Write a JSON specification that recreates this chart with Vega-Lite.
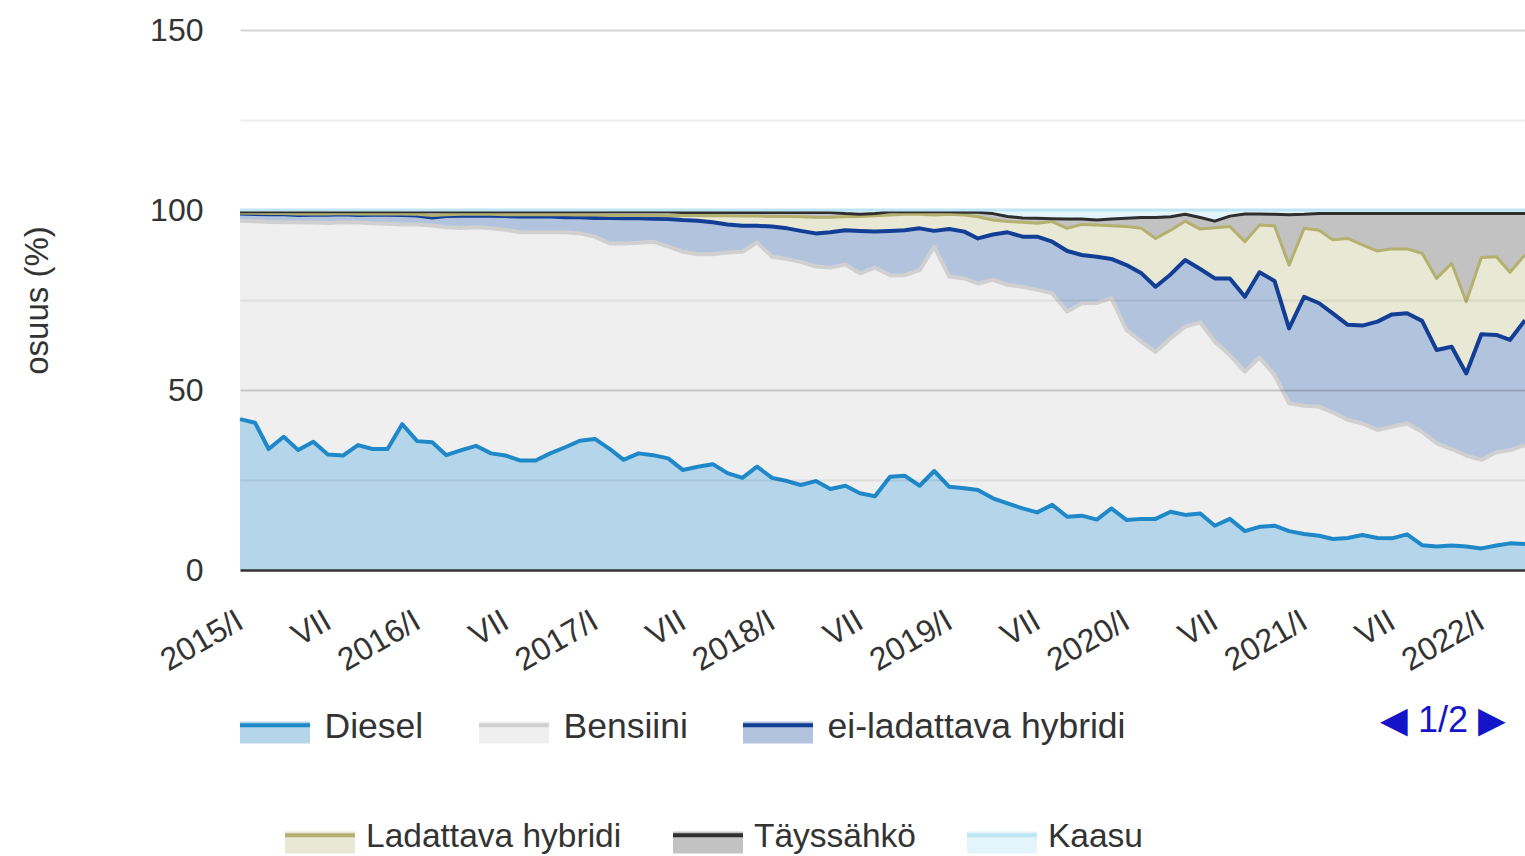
{
 "$schema": "https://vega.github.io/schema/vega-lite/v6.json",
 "width": 1285,
 "height": 540,
 "autosize": {"type": "none"},
 "padding": {"left": 240, "top": 30, "right": 0, "bottom": 286},
 "background": "white",
 "config": {"view": {"stroke": null}, "font": "Liberation Sans"},
 "data": {"values": [
  {"m":"2015-01","Diesel":41.9,"Bensiini":55.1,"ei-ladattava hybridi":2.0,"Ladattava hybridi":0.2,"Täyssähkö":0.3,"Kaasu":0.5},
  {"m":"2015-02","Diesel":40.9,"Bensiini":56.0,"ei-ladattava hybridi":2.0,"Ladattava hybridi":0.2,"Täyssähkö":0.4,"Kaasu":0.5},
  {"m":"2015-03","Diesel":33.6,"Bensiini":63.1,"ei-ladattava hybridi":2.1,"Ladattava hybridi":0.2,"Täyssähkö":0.5,"Kaasu":0.5},
  {"m":"2015-04","Diesel":37.0,"Bensiini":59.6,"ei-ladattava hybridi":2.2,"Ladattava hybridi":0.2,"Täyssähkö":0.5,"Kaasu":0.5},
  {"m":"2015-05","Diesel":33.3,"Bensiini":63.3,"ei-ladattava hybridi":2.0,"Ladattava hybridi":0.3,"Täyssähkö":0.6,"Kaasu":0.5},
  {"m":"2015-06","Diesel":35.6,"Bensiini":60.9,"ei-ladattava hybridi":2.2,"Ladattava hybridi":0.2,"Täyssähkö":0.6,"Kaasu":0.5},
  {"m":"2015-07","Diesel":32.1,"Bensiini":64.3,"ei-ladattava hybridi":2.3,"Ladattava hybridi":0.2,"Täyssähkö":0.6,"Kaasu":0.5},
  {"m":"2015-08","Diesel":31.8,"Bensiini":64.8,"ei-ladattava hybridi":2.2,"Ladattava hybridi":0.2,"Täyssähkö":0.5,"Kaasu":0.5},
  {"m":"2015-09","Diesel":34.7,"Bensiini":61.8,"ei-ladattava hybridi":2.1,"Ladattava hybridi":0.3,"Täyssähkö":0.6,"Kaasu":0.5},
  {"m":"2015-10","Diesel":33.6,"Bensiini":62.7,"ei-ladattava hybridi":2.4,"Ladattava hybridi":0.2,"Täyssähkö":0.6,"Kaasu":0.5},
  {"m":"2015-11","Diesel":33.6,"Bensiini":62.6,"ei-ladattava hybridi":2.5,"Ladattava hybridi":0.2,"Täyssähkö":0.6,"Kaasu":0.5},
  {"m":"2015-12","Diesel":40.5,"Bensiini":55.5,"ei-ladattava hybridi":2.6,"Ladattava hybridi":0.3,"Täyssähkö":0.6,"Kaasu":0.5},
  {"m":"2016-01","Diesel":35.8,"Bensiini":60.2,"ei-ladattava hybridi":2.5,"Ladattava hybridi":0.3,"Täyssähkö":0.7,"Kaasu":0.5},
  {"m":"2016-02","Diesel":35.5,"Bensiini":60.2,"ei-ladattava hybridi":2.2,"Ladattava hybridi":0.6,"Täyssähkö":1.0,"Kaasu":0.5},
  {"m":"2016-03","Diesel":31.9,"Bensiini":63.3,"ei-ladattava hybridi":3.1,"Ladattava hybridi":0.4,"Täyssähkö":0.8,"Kaasu":0.5},
  {"m":"2016-04","Diesel":33.3,"Bensiini":61.7,"ei-ladattava hybridi":3.4,"Ladattava hybridi":0.4,"Täyssähkö":0.7,"Kaasu":0.5},
  {"m":"2016-05","Diesel":34.5,"Bensiini":60.7,"ei-ladattava hybridi":3.3,"Ladattava hybridi":0.3,"Täyssähkö":0.7,"Kaasu":0.5},
  {"m":"2016-06","Diesel":32.4,"Bensiini":62.5,"ei-ladattava hybridi":3.5,"Ladattava hybridi":0.4,"Täyssähkö":0.7,"Kaasu":0.5},
  {"m":"2016-07","Diesel":31.8,"Bensiini":62.7,"ei-ladattava hybridi":3.8,"Ladattava hybridi":0.4,"Täyssähkö":0.8,"Kaasu":0.5},
  {"m":"2016-08","Diesel":30.4,"Bensiini":63.4,"ei-ladattava hybridi":4.4,"Ladattava hybridi":0.5,"Täyssähkö":0.8,"Kaasu":0.5},
  {"m":"2016-09","Diesel":30.4,"Bensiini":63.4,"ei-ladattava hybridi":4.4,"Ladattava hybridi":0.5,"Täyssähkö":0.8,"Kaasu":0.5},
  {"m":"2016-10","Diesel":32.4,"Bensiini":61.4,"ei-ladattava hybridi":4.4,"Ladattava hybridi":0.5,"Täyssähkö":0.8,"Kaasu":0.5},
  {"m":"2016-11","Diesel":34.1,"Bensiini":59.7,"ei-ladattava hybridi":4.2,"Ladattava hybridi":0.7,"Täyssähkö":0.8,"Kaasu":0.5},
  {"m":"2016-12","Diesel":35.9,"Bensiini":57.6,"ei-ladattava hybridi":4.5,"Ladattava hybridi":0.6,"Täyssähkö":0.9,"Kaasu":0.5},
  {"m":"2017-01","Diesel":36.4,"Bensiini":56.2,"ei-ladattava hybridi":5.2,"Ladattava hybridi":0.8,"Täyssähkö":0.9,"Kaasu":0.5},
  {"m":"2017-02","Diesel":33.6,"Bensiini":57.1,"ei-ladattava hybridi":7.1,"Ladattava hybridi":0.7,"Täyssähkö":1.0,"Kaasu":0.5},
  {"m":"2017-03","Diesel":30.6,"Bensiini":60.1,"ei-ladattava hybridi":7.0,"Ladattava hybridi":0.8,"Täyssähkö":1.0,"Kaasu":0.5},
  {"m":"2017-04","Diesel":32.4,"Bensiini":58.5,"ei-ladattava hybridi":6.8,"Ladattava hybridi":0.8,"Täyssähkö":1.0,"Kaasu":0.5},
  {"m":"2017-05","Diesel":31.9,"Bensiini":59.3,"ei-ladattava hybridi":6.4,"Ladattava hybridi":0.9,"Täyssähkö":1.0,"Kaasu":0.5},
  {"m":"2017-06","Diesel":31.0,"Bensiini":58.8,"ei-ladattava hybridi":7.7,"Ladattava hybridi":0.9,"Täyssähkö":1.1,"Kaasu":0.5},
  {"m":"2017-07","Diesel":27.8,"Bensiini":60.6,"ei-ladattava hybridi":8.8,"Ladattava hybridi":1.3,"Täyssähkö":0.8,"Kaasu":0.7},
  {"m":"2017-08","Diesel":28.7,"Bensiini":59.0,"ei-ladattava hybridi":9.3,"Ladattava hybridi":1.5,"Täyssähkö":0.8,"Kaasu":0.7},
  {"m":"2017-09","Diesel":29.4,"Bensiini":58.3,"ei-ladattava hybridi":8.9,"Ladattava hybridi":1.8,"Täyssähkö":0.9,"Kaasu":0.7},
  {"m":"2017-10","Diesel":26.9,"Bensiini":61.3,"ei-ladattava hybridi":7.8,"Ladattava hybridi":2.4,"Täyssähkö":0.9,"Kaasu":0.7},
  {"m":"2017-11","Diesel":25.6,"Bensiini":62.8,"ei-ladattava hybridi":7.2,"Ladattava hybridi":2.7,"Täyssähkö":1.0,"Kaasu":0.7},
  {"m":"2017-12","Diesel":28.7,"Bensiini":62.3,"ei-ladattava hybridi":4.6,"Ladattava hybridi":2.7,"Täyssähkö":1.0,"Kaasu":0.7},
  {"m":"2018-01","Diesel":25.6,"Bensiini":61.4,"ei-ladattava hybridi":8.4,"Ladattava hybridi":2.8,"Täyssähkö":1.1,"Kaasu":0.7},
  {"m":"2018-02","Diesel":24.7,"Bensiini":61.7,"ei-ladattava hybridi":8.5,"Ladattava hybridi":3.3,"Täyssähkö":1.1,"Kaasu":0.7},
  {"m":"2018-03","Diesel":23.6,"Bensiini":62.0,"ei-ladattava hybridi":8.6,"Ladattava hybridi":3.9,"Täyssähkö":1.2,"Kaasu":0.7},
  {"m":"2018-04","Diesel":24.7,"Bensiini":59.6,"ei-ladattava hybridi":9.2,"Ladattava hybridi":4.5,"Täyssähkö":1.3,"Kaasu":0.7},
  {"m":"2018-05","Diesel":22.5,"Bensiini":61.5,"ei-ladattava hybridi":9.8,"Ladattava hybridi":4.2,"Täyssähkö":1.3,"Kaasu":0.7},
  {"m":"2018-06","Diesel":23.4,"Bensiini":61.5,"ei-ladattava hybridi":9.5,"Ladattava hybridi":3.7,"Täyssähkö":0.9,"Kaasu":1.0},
  {"m":"2018-07","Diesel":21.3,"Bensiini":61.1,"ei-ladattava hybridi":11.8,"Ladattava hybridi":4.0,"Täyssähkö":0.6,"Kaasu":1.2},
  {"m":"2018-08","Diesel":20.5,"Bensiini":63.5,"ei-ladattava hybridi":10.0,"Ladattava hybridi":4.4,"Täyssähkö":0.6,"Kaasu":1.0},
  {"m":"2018-09","Diesel":25.9,"Bensiini":56.0,"ei-ladattava hybridi":12.3,"Ladattava hybridi":4.4,"Täyssähkö":0.9,"Kaasu":0.5},
  {"m":"2018-10","Diesel":26.2,"Bensiini":55.7,"ei-ladattava hybridi":12.5,"Ladattava hybridi":4.4,"Täyssähkö":0.7,"Kaasu":0.5},
  {"m":"2018-11","Diesel":23.4,"Bensiini":59.9,"ei-ladattava hybridi":11.6,"Ladattava hybridi":3.9,"Täyssähkö":0.7,"Kaasu":0.5},
  {"m":"2018-12","Diesel":27.5,"Bensiini":62.3,"ei-ladattava hybridi":4.4,"Ladattava hybridi":4.4,"Täyssähkö":0.9,"Kaasu":0.5},
  {"m":"2019-01","Diesel":23.1,"Bensiini":58.4,"ei-ladattava hybridi":13.2,"Ladattava hybridi":4.1,"Täyssähkö":0.7,"Kaasu":0.5},
  {"m":"2019-02","Diesel":22.7,"Bensiini":58.3,"ei-ladattava hybridi":13.0,"Ladattava hybridi":4.6,"Täyssähkö":0.8,"Kaasu":0.6},
  {"m":"2019-03","Diesel":22.2,"Bensiini":57.4,"ei-ladattava hybridi":12.5,"Ladattava hybridi":6.0,"Täyssähkö":1.3,"Kaasu":0.6},
  {"m":"2019-04","Diesel":19.9,"Bensiini":60.7,"ei-ladattava hybridi":12.6,"Ladattava hybridi":4.0,"Täyssähkö":1.8,"Kaasu":1.0},
  {"m":"2019-05","Diesel":18.5,"Bensiini":60.7,"ei-ladattava hybridi":14.6,"Ladattava hybridi":3.0,"Täyssähkö":1.4,"Kaasu":1.8},
  {"m":"2019-06","Diesel":17.1,"Bensiini":61.6,"ei-ladattava hybridi":13.9,"Ladattava hybridi":4.0,"Täyssähkö":1.2,"Kaasu":2.2},
  {"m":"2019-07","Diesel":16.0,"Bensiini":61.8,"ei-ladattava hybridi":14.8,"Ladattava hybridi":3.7,"Täyssähkö":1.4,"Kaasu":2.3},
  {"m":"2019-08","Diesel":18.1,"Bensiini":58.8,"ei-ladattava hybridi":14.3,"Ladattava hybridi":5.6,"Täyssähkö":0.8,"Kaasu":2.4},
  {"m":"2019-09","Diesel":14.8,"Bensiini":57.0,"ei-ladattava hybridi":16.8,"Ladattava hybridi":6.3,"Täyssähkö":2.6,"Kaasu":2.5},
  {"m":"2019-10","Diesel":15.1,"Bensiini":59.0,"ei-ladattava hybridi":13.4,"Ladattava hybridi":8.5,"Täyssähkö":1.5,"Kaasu":2.5},
  {"m":"2019-11","Diesel":14.0,"Bensiini":60.2,"ei-ladattava hybridi":12.8,"Ladattava hybridi":8.8,"Täyssähkö":1.4,"Kaasu":2.8},
  {"m":"2019-12","Diesel":17.1,"Bensiini":58.4,"ei-ladattava hybridi":10.9,"Ladattava hybridi":9.2,"Täyssähkö":1.9,"Kaasu":2.5},
  {"m":"2020-01","Diesel":13.9,"Bensiini":52.8,"ei-ladattava hybridi":18.0,"Ladattava hybridi":10.7,"Täyssähkö":2.3,"Kaasu":2.3},
  {"m":"2020-02","Diesel":14.2,"Bensiini":49.2,"ei-ladattava hybridi":19.0,"Ladattava hybridi":12.5,"Täyssähkö":3.0,"Kaasu":2.1},
  {"m":"2020-03","Diesel":14.2,"Bensiini":46.4,"ei-ladattava hybridi":18.1,"Ladattava hybridi":13.4,"Täyssähkö":5.8,"Kaasu":2.1},
  {"m":"2020-04","Diesel":16.2,"Bensiini":48.2,"ei-ladattava hybridi":17.7,"Ladattava hybridi":12.3,"Täyssähkö":3.7,"Kaasu":1.9},
  {"m":"2020-05","Diesel":15.3,"Bensiini":52.3,"ei-ladattava hybridi":18.5,"Ladattava hybridi":10.8,"Täyssähkö":1.9,"Kaasu":1.2},
  {"m":"2020-06","Diesel":15.7,"Bensiini":53.1,"ei-ladattava hybridi":14.8,"Ladattava hybridi":11.1,"Täyssähkö":3.2,"Kaasu":2.1},
  {"m":"2020-07","Diesel":12.3,"Bensiini":51.1,"ei-ladattava hybridi":17.6,"Ladattava hybridi":14.1,"Täyssähkö":1.8,"Kaasu":3.1},
  {"m":"2020-08","Diesel":14.2,"Bensiini":45.5,"ei-ladattava hybridi":21.3,"Ladattava hybridi":14.4,"Täyssähkö":2.9,"Kaasu":1.7},
  {"m":"2020-09","Diesel":10.8,"Bensiini":44.3,"ei-ladattava hybridi":20.8,"Ladattava hybridi":15.3,"Täyssähkö":7.7,"Kaasu":1.1},
  {"m":"2020-10","Diesel":12.0,"Bensiini":47.0,"ei-ladattava hybridi":23.7,"Ladattava hybridi":13.1,"Täyssähkö":3.1,"Kaasu":1.1},
  {"m":"2020-11","Diesel":12.3,"Bensiini":41.9,"ei-ladattava hybridi":26.1,"Ladattava hybridi":15.3,"Täyssähkö":3.2,"Kaasu":1.2},
  {"m":"2020-12","Diesel":10.8,"Bensiini":35.5,"ei-ladattava hybridi":20.8,"Ladattava hybridi":17.6,"Täyssähkö":14.0,"Kaasu":1.3},
  {"m":"2021-01","Diesel":10.0,"Bensiini":35.6,"ei-ladattava hybridi":30.3,"Ladattava hybridi":19.0,"Täyssähkö":3.9,"Kaasu":1.2},
  {"m":"2021-02","Diesel":9.5,"Bensiini":35.9,"ei-ladattava hybridi":28.7,"Ladattava hybridi":20.3,"Täyssähkö":4.6,"Kaasu":1.0},
  {"m":"2021-03","Diesel":8.6,"Bensiini":35.2,"ei-ladattava hybridi":27.5,"Ladattava hybridi":20.4,"Täyssähkö":7.3,"Kaasu":1.0},
  {"m":"2021-04","Diesel":8.9,"Bensiini":32.8,"ei-ladattava hybridi":26.4,"Ladattava hybridi":24.0,"Täyssähkö":6.9,"Kaasu":1.0},
  {"m":"2021-05","Diesel":9.7,"Bensiini":31.0,"ei-ladattava hybridi":27.2,"Ladattava hybridi":22.4,"Täyssähkö":8.7,"Kaasu":1.0},
  {"m":"2021-06","Diesel":8.9,"Bensiini":30.0,"ei-ladattava hybridi":30.1,"Ladattava hybridi":19.6,"Täyssähkö":10.4,"Kaasu":1.0},
  {"m":"2021-07","Diesel":8.8,"Bensiini":31.0,"ei-ladattava hybridi":31.2,"Ladattava hybridi":18.2,"Täyssähkö":9.8,"Kaasu":1.0},
  {"m":"2021-08","Diesel":9.9,"Bensiini":30.8,"ei-ladattava hybridi":30.6,"Ladattava hybridi":17.9,"Täyssähkö":9.8,"Kaasu":1.0},
  {"m":"2021-09","Diesel":6.9,"Bensiini":31.5,"ei-ladattava hybridi":30.8,"Ladattava hybridi":18.8,"Täyssähkö":11.0,"Kaasu":1.0},
  {"m":"2021-10","Diesel":6.5,"Bensiini":28.7,"ei-ladattava hybridi":25.9,"Ladattava hybridi":19.9,"Täyssähkö":18.0,"Kaasu":1.0},
  {"m":"2021-11","Diesel":6.8,"Bensiini":26.8,"ei-ladattava hybridi":28.4,"Ladattava hybridi":23.2,"Täyssähkö":13.8,"Kaasu":1.0},
  {"m":"2021-12","Diesel":6.5,"Bensiini":25.3,"ei-ladattava hybridi":22.8,"Ladattava hybridi":19.9,"Täyssähkö":24.5,"Kaasu":1.0},
  {"m":"2022-01","Diesel":6.0,"Bensiini":24.6,"ei-ladattava hybridi":34.9,"Ladattava hybridi":21.3,"Täyssähkö":12.2,"Kaasu":1.0},
  {"m":"2022-02","Diesel":6.8,"Bensiini":25.9,"ei-ladattava hybridi":32.6,"Ladattava hybridi":21.7,"Täyssähkö":12.0,"Kaasu":1.0},
  {"m":"2022-03","Diesel":7.4,"Bensiini":25.9,"ei-ladattava hybridi":30.6,"Ladattava hybridi":18.8,"Täyssähkö":16.3,"Kaasu":1.0},
  {"m":"2022-04","Diesel":7.2,"Bensiini":27.5,"ei-ladattava hybridi":34.7,"Ladattava hybridi":18.1,"Täyssähkö":11.5,"Kaasu":1.0}
 ]},
 "transform": [
  {"fold": ["Diesel", "Bensiini", "ei-ladattava hybridi", "Ladattava hybridi", "Täyssähkö", "Kaasu"], "as": ["sarja", "osuus"]},
  {"stack": "osuus", "groupby": ["m"], "as": ["y0", "y1"]}
 ],
 "encoding": {
  "x": {
   "field": "m", "type": "temporal",
   "scale": {"type": "utc", "domain": [{"year": 2015, "month": 1, "date": 1, "utc": true}, {"year": 2022, "month": 4, "date": 1, "utc": true}]},
   "axis": {
    "title": null,
    "values": [
     {"year": 2015, "month": 1, "date": 1, "utc": true}, {"year": 2015, "month": 7, "date": 1, "utc": true},
     {"year": 2016, "month": 1, "date": 1, "utc": true}, {"year": 2016, "month": 7, "date": 1, "utc": true},
     {"year": 2017, "month": 1, "date": 1, "utc": true}, {"year": 2017, "month": 7, "date": 1, "utc": true},
     {"year": 2018, "month": 1, "date": 1, "utc": true}, {"year": 2018, "month": 7, "date": 1, "utc": true},
     {"year": 2019, "month": 1, "date": 1, "utc": true}, {"year": 2019, "month": 7, "date": 1, "utc": true},
     {"year": 2020, "month": 1, "date": 1, "utc": true}, {"year": 2020, "month": 7, "date": 1, "utc": true},
     {"year": 2021, "month": 1, "date": 1, "utc": true}, {"year": 2021, "month": 7, "date": 1, "utc": true},
     {"year": 2022, "month": 1, "date": 1, "utc": true}
    ],
    "labelExpr": "utcmonth(datum.value) === 0 ? utcyear(datum.value) + '/I' : 'VII'",
    "labelAngle": -30, "labelAlign": "right", "labelBaseline": "middle",
    "labelFont": "Liberation Sans", "labelFontSize": 32, "labelColor": "#333333",
    "labelPadding": 48, "labelOffset": 0, "labelOverlap": false, "labelBound": false, "labelFlush": false,
    "ticks": false, "grid": false,
    "domainColor": "#333333", "domainWidth": 2.5, "zindex": 1
   }
  },
  "y": {
   "field": "y1", "type": "quantitative", "stack": null,
   "scale": {"domain": [0, 150], "nice": false},
   "axis": {
    "title": "osuus (%)",
    "titleFont": "Liberation Sans", "titleFontSize": 33, "titleFontWeight": "normal", "titleColor": "#333333",
    "titleAngle": 270, "titleAlign": "center", "titleBaseline": "middle", "titleX": -203, "titleY": 270,
    "values": [0, 25, 50, 75, 100, 125, 150],
    "labelExpr": "datum.value % 50 === 0 ? datum.label : ''",
    "labelFont": "Liberation Sans", "labelFontSize": 32, "labelColor": "#333333", "labelPadding": 37,
    "ticks": false, "domain": false, "grid": true,
    "gridColor": {"condition": {"test": "datum.value % 50 === 0", "value": "rgba(0,0,0,0.17)"}, "value": "rgba(0,0,0,0.07)"},
    "gridOpacity": {"condition": {"test": "datum.value === 0 || datum.value === 100", "value": 0}, "value": 1},
    "gridWidth": 2,
    "zindex": 1
   }
  }
 },
 "layer": [
  {
   "transform": [{"filter": {"field": "sarja", "oneOf": ["Diesel", "Bensiini", "ei-ladattava hybridi"]}}],
   "mark": {"type": "area"},
   "encoding": {
    "y2": {"field": "y0"},
    "fill": {
     "field": "sarja", "type": "nominal",
     "scale": {"domain": ["Diesel", "Bensiini", "ei-ladattava hybridi"], "range": ["#b5d6ea", "#efefef", "#b2c3de"]},
     "legend": null
    }
   }
  },
  {
   "transform": [{"filter": {"field": "sarja", "oneOf": ["Ladattava hybridi", "Täyssähkö", "Kaasu"]}}],
   "mark": {"type": "area"},
   "encoding": {
    "y2": {"field": "y0"},
    "fill": {
     "field": "sarja", "type": "nominal",
     "scale": {"domain": ["Ladattava hybridi", "Täyssähkö", "Kaasu"], "range": ["#e9e8d4", "#c2c2c2", "#e3f4fb"]},
     "legend": null
    }
   }
  },
  {
   "transform": [{"filter": {"field": "sarja", "oneOf": ["Diesel", "Bensiini", "ei-ladattava hybridi"]}}],
   "mark": {"type": "line", "strokeWidth": 4, "strokeJoin": "round"},
   "encoding": {
    "stroke": {
     "field": "sarja", "type": "nominal",
     "scale": {"domain": ["Diesel", "Bensiini", "ei-ladattava hybridi"], "range": ["#1f88c9", "#d0d0d0", "#123f95"]},
     "legend": null
    }
   }
  },
  {
   "transform": [{"filter": {"field": "sarja", "oneOf": ["Ladattava hybridi", "Täyssähkö", "Kaasu"]}}],
   "mark": {"type": "line", "strokeWidth": 3, "strokeJoin": "round"},
   "encoding": {
    "stroke": {
     "field": "sarja", "type": "nominal",
     "scale": {"domain": ["Ladattava hybridi", "Täyssähkö", "Kaasu"], "range": ["#b4b06f", "#2e2e2e", "#bfe5f5"]},
     "legend": null
    }
   }
  },
  {
   "transform": [{"filter": "false"}],
   "mark": {"type": "area"},
   "encoding": {
    "y2": {"field": "y0"},
    "fill": {
     "field": "sarja", "type": "nominal",
     "scale": {"domain": ["Diesel", "Bensiini", "ei-ladattava hybridi"], "range": ["#b5d6ea", "#efefef", "#b2c3de"]},
     "legend": {
      "orient": "none", "legendX": -2, "legendY": 660, "direction": "horizontal", "columns": 3,
      "title": "◀  1/2  ▶", "titleOrient": "right", "titleAnchor": "middle", "titleBaseline": "middle", "titlePadding": 255,
      "titleFont": "Liberation Sans", "titleFontSize": 36, "titleFontWeight": "normal", "titleColor": "#1414c8",
      "symbolType": "M-1,-0.06H1V0.46H-1V-0.17H1V-0.06Z", "symbolSize": 4900, "symbolStrokeWidth": 4, "symbolDash": [70, 2000], "symbolOpacity": 1,
      "labelFont": "Liberation Sans", "labelFontSize": 35.5, "labelColor": "#333333", "labelOffset": 12.5, "labelLimit": 0,
      "columnPadding": 47
     }
    },
    "stroke": {
     "field": "sarja", "type": "nominal",
     "scale": {"domain": ["Diesel", "Bensiini", "ei-ladattava hybridi"], "range": ["#1f88c9", "#d0d0d0", "#123f95"]},
     "legend": {
      "orient": "none", "legendX": -2, "legendY": 660, "direction": "horizontal", "columns": 3,
      "title": "◀  1/2  ▶", "titleOrient": "right", "titleAnchor": "middle", "titleBaseline": "middle", "titlePadding": 255,
      "titleFont": "Liberation Sans", "titleFontSize": 36, "titleFontWeight": "normal", "titleColor": "#1414c8",
      "symbolType": "M-1,-0.06H1V0.46H-1V-0.17H1V-0.06Z", "symbolSize": 4900, "symbolStrokeWidth": 4, "symbolDash": [70, 2000], "symbolOpacity": 1,
      "labelFont": "Liberation Sans", "labelFontSize": 35.5, "labelColor": "#333333", "labelOffset": 12.5, "labelLimit": 0,
      "columnPadding": 47
     }
    }
   }
  },
  {
   "transform": [{"filter": "false"}],
   "mark": {"type": "area"},
   "encoding": {
    "y2": {"field": "y0"},
    "fill": {
     "field": "sarja", "type": "nominal",
     "scale": {"domain": ["Ladattava hybridi", "Täyssähkö", "Kaasu"], "range": ["#e9e8d4", "#c2c2c2", "#e3f4fb"]},
     "legend": {
      "orient": "none", "legendX": 43, "legendY": 770, "direction": "horizontal", "columns": 3, "title": null,
      "symbolType": "M-1,-0.06H1V0.46H-1V-0.17H1V-0.06Z", "symbolSize": 4900, "symbolStrokeWidth": 4, "symbolDash": [70, 2000], "symbolOpacity": 1,
      "labelFont": "Liberation Sans", "labelFontSize": 33.5, "labelColor": "#333333", "labelOffset": 9, "labelLimit": 0,
      "columnPadding": 43
     }
    },
    "stroke": {
     "field": "sarja", "type": "nominal",
     "scale": {"domain": ["Ladattava hybridi", "Täyssähkö", "Kaasu"], "range": ["#b4b06f", "#2e2e2e", "#bfe5f5"]},
     "legend": {
      "orient": "none", "legendX": 43, "legendY": 770, "direction": "horizontal", "columns": 3, "title": null,
      "symbolType": "M-1,-0.06H1V0.46H-1V-0.17H1V-0.06Z", "symbolSize": 4900, "symbolStrokeWidth": 4, "symbolDash": [70, 2000], "symbolOpacity": 1,
      "labelFont": "Liberation Sans", "labelFontSize": 33.5, "labelColor": "#333333", "labelOffset": 9, "labelLimit": 0,
      "columnPadding": 43
     }
    }
   }
  }
 ],
 "resolve": {
  "scale": {"fill": "independent", "stroke": "independent"},
  "legend": {"fill": "independent", "stroke": "independent"}
 }
}
